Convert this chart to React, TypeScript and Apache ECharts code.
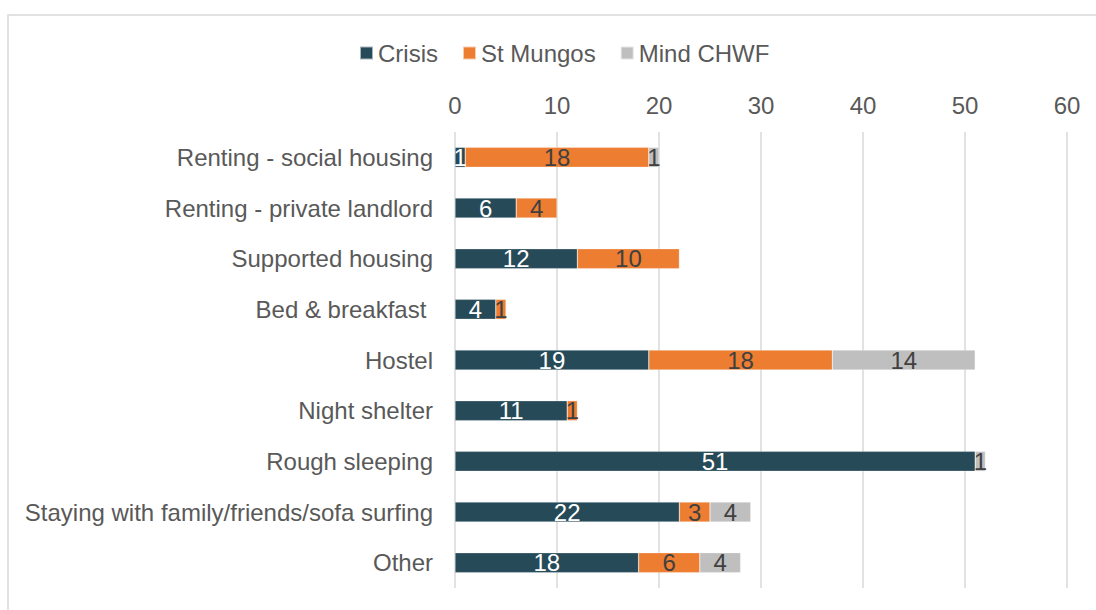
import React, { useEffect, useRef } from "react";
import * as echarts from "echarts";

const categories = [
  "Renting - social housing",
  "Renting - private landlord",
  "Supported housing",
  "Bed & breakfast ",
  "Hostel",
  "Night shelter",
  "Rough sleeping",
  "Staying with family/friends/sofa surfing",
  "Other",
];
const crisis = [1, 6, 12, 4, 19, 11, 51, 22, 18];
const stMungos = [18, 4, 10, 1, 18, 1, 0, 3, 6];
const mindChwf = [1, 0, 0, 0, 14, 0, 1, 4, 4];
const xTicks = [0, 10, 20, 30, 40, 50, 60];

const FONT = "'Liberation Sans', Arial, sans-serif";
const FS = 24;

export default function App() {
  const ref = useRef<HTMLDivElement>(null);
  useEffect(() => {
    if (!ref.current) return;
    const chart = echarts.init(ref.current, null, { renderer: "svg" });
    const mk = (name: string, data: number[], color: string, labelColor: string) => ({
      name,
      type: "bar",
      stack: "total",
      barWidth: 20,
      data: data.map((v) => (v === 0 ? null : v)),
      itemStyle: { color, borderColor: "rgba(255,255,255,0.6)", borderWidth: 0.5 },
      label: {
        show: true,
        position: "inside",
        color: labelColor,
        fontSize: FS,
        fontFamily: FONT,
        formatter: (p: any) => (p.value ? String(p.value) : ""),
      },
    });
    chart.setOption({
      animation: false,
      textStyle: { fontFamily: FONT },
      legend: {
        top: 36,
        left: 354,
        itemWidth: 13,
        itemHeight: 13,
        itemGap: 24,
        icon: "rect",
        textStyle: { fontSize: FS, color: "#595959", fontFamily: FONT },
        data: ["Crisis", "St Mungos", "Mind CHWF"],
      },
      grid: { left: 455, right: 29, top: 132, bottom: 22, containLabel: false },
      xAxis: {
        type: "value",
        position: "top",
        min: xTicks[0],
        max: xTicks[xTicks.length - 1],
        interval: 10,
        axisLine: { show: false },
        axisTick: { show: false },
        axisLabel: { fontSize: FS, color: "#595959", fontFamily: FONT, margin: 15 },
        splitLine: { lineStyle: { color: "#d9d9d9", width: 1.5 } },
      },
      yAxis: {
        type: "category",
        inverse: true,
        data: categories,
        axisLine: { show: false },
        axisTick: { show: false },
        axisLabel: { fontSize: FS, color: "#595959", fontFamily: FONT, margin: 22 },
      },
      graphic: [
        {
          type: "rect",
          shape: { x: 8, y: 15, width: 1200, height: 700 },
          style: { fill: "none", stroke: "#d9d9d9", lineWidth: 1.5 },
          silent: true,
        },
      ],
      series: [
        mk("Crisis", crisis, "#264a58", "#ffffff"),
        mk("St Mungos", stMungos, "#ed7d31", "#404040"),
        mk("Mind CHWF", mindChwf, "#bfbfbf", "#404040"),
      ],
    });
    return () => chart.dispose();
  }, []);
  return (
    <div
      ref={ref}
      style={{ position: "absolute", left: 0, top: 0, width: 1096, height: 610, background: "#fff" }}
    />
  );
}
